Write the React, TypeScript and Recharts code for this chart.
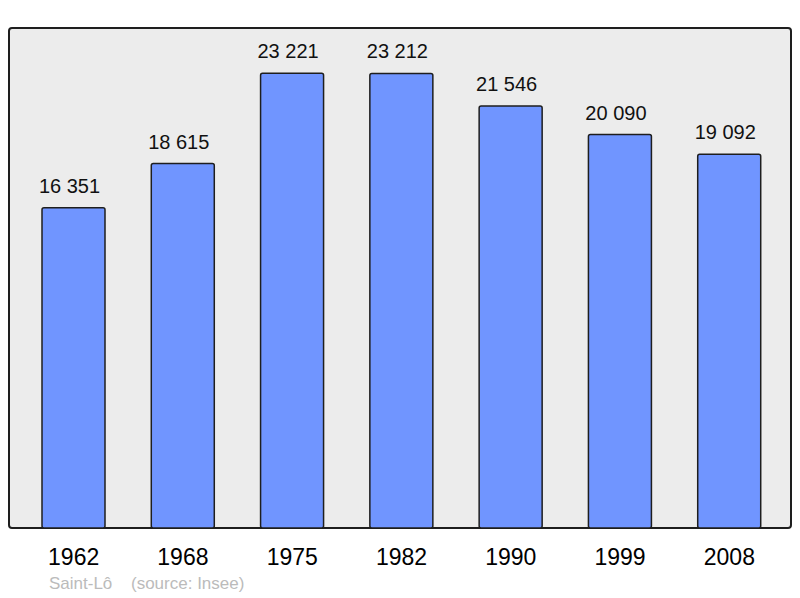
import { Bar, BarChart, LabelList, XAxis, YAxis } from "recharts";

const years = ["1962", "1968", "1975", "1982", "1990", "1999", "2008"];
const population = [16351, 18615, 23221, 23212, 21546, 20090, 19092];
const cityName = "Saint-Lô";
const sourceNote = "(source: Insee)";

const WIDTH = 800;
const HEIGHT = 598;
const MARGIN = { top: 28, right: 9, bottom: 40, left: 9 };
const AXIS_HEIGHT = 30;
const FONT = "'Liberation Sans', Arial, sans-serif";

function formatValue(value: number) {
  return String(value).replace(/\B(?=(\d{3})+(?!\d))/g, " ");
}

function YearTick(props: any) {
  const { x, y, payload } = props;
  return (
    <text
      x={x}
      y={y + 37}
      textAnchor="middle"
      fontFamily={FONT}
      fontSize={23}
      fill="#000"
    >
      {payload.value}
    </text>
  );
}

export default function App() {
  const data = years.map((year, i) => ({ year, population: population[i] }));
  const plotBottom = MARGIN.bottom + AXIS_HEIGHT;

  return (
    <div
      style={{
        position: "absolute",
        left: 0,
        top: 0,
        width: WIDTH,
        height: HEIGHT,
        background: "#fff",
        fontFamily: FONT,
      }}
    >
      <div
        style={{
          position: "absolute",
          left: MARGIN.left - 1,
          top: MARGIN.top - 1,
          width: WIDTH - MARGIN.left - MARGIN.right + 2,
          height: HEIGHT - MARGIN.top - plotBottom + 2,
          background: "#ececec",
          border: "2px solid #1e1e1e",
          borderRadius: 4,
          boxSizing: "border-box",
        }}
      />
      <div style={{ position: "absolute", left: 0, top: 0 }}>
        <BarChart width={WIDTH} height={HEIGHT} data={data} margin={MARGIN}>
          <XAxis
            dataKey="year"
            height={AXIS_HEIGHT}
            axisLine={false}
            tickLine={false}
            tickSize={0}
            tickMargin={0}
            padding={{ left: 10, right: 7 }}
            tick={<YearTick />}
            interval={0}
          />
          <YAxis hide domain={[0, 25535]} />
          <Bar
            dataKey="population"
            barSize={63}
            fill="#7095ff"
            stroke="#1e1e1e"
            strokeWidth={1.5}
            radius={2}
            isAnimationActive={false}
          >
            <LabelList
              dataKey="population"
              position="top"
              offset={15}
              dx={-4}
              formatter={(v: any) => formatValue(Number(v))}
              style={{ fontFamily: FONT, fontSize: 20, fill: "#111" }}
            />
          </Bar>
        </BarChart>
      </div>
      <div
        style={{
          position: "absolute",
          left: 49,
          top: 574,
          fontSize: 17,
          color: "#bbbbbb",
        }}
      >
        {cityName}
      </div>
      <div
        style={{
          position: "absolute",
          left: 131,
          top: 574,
          fontSize: 17,
          color: "#bbbbbb",
        }}
      >
        {sourceNote}
      </div>
    </div>
  );
}
